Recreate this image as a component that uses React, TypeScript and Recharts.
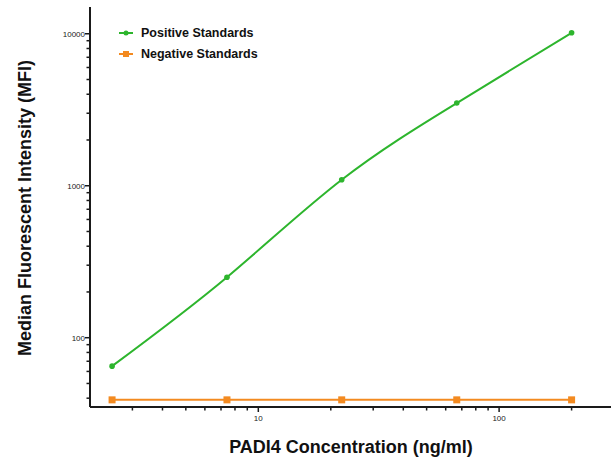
import React from 'react';
import { LineChart, Line, XAxis, YAxis, Legend } from 'recharts';

// PADI4 standard curve, concentrations in ng/ml (3-fold dilutions)
const concentrations = [2.47, 7.41, 22.2, 66.7, 200];
const positiveMFI = [65, 250, 1095, 3500, 10150];
const negativeMFI = [39, 39, 39, 39, 39];

const xTicks = [3, 4, 5, 6, 7, 8, 9, 10, 20, 30, 40, 50, 60, 70, 80, 90, 100, 200];
const yTicks = [40, 50, 60, 70, 80, 90, 100, 200, 300, 400, 500, 600, 700, 800, 900, 1000, 2000, 3000, 4000, 5000, 6000, 7000, 8000, 9000, 10000];
const xLabels = [10, 100];
const yLabels = [100, 1000, 10000];

const GREEN = '#2db52d';
const ORANGE = '#f38a20';
const AXIS = '#1a1a1a';
const FONT = '"Liberation Sans", Arial, sans-serif';

const data = concentrations.map((c, i) => ({
  conc: c,
  pos: positiveMFI[i],
  neg: negativeMFI[i],
}));

const XTick = ({ x, y, payload }: any) => {
  const major = xLabels.includes(payload.value);
  return (
    <g>
      <line x1={x} x2={x} y1={y} y2={y + (major ? 5 : 3.5)} stroke={AXIS} strokeWidth={1.5} />
      {major && (
        <text x={x} y={y + 14} textAnchor="middle" fontSize={8} fontFamily={FONT} fill="#222">
          {payload.value}
        </text>
      )}
    </g>
  );
};

const YTick = ({ x, y, payload }: any) => {
  const major = yLabels.includes(payload.value);
  return (
    <g>
      <line x1={x} x2={x - (major ? 5 : 3.5)} y1={y} y2={y} stroke={AXIS} strokeWidth={1.5} />
      {major && (
        <text x={x - 5} y={y + 3} textAnchor="end" fontSize={8} fontFamily={FONT} fill="#222">
          {payload.value}
        </text>
      )}
    </g>
  );
};

const SquareDot = ({ cx, cy }: any) => (
  <rect x={cx - 3.5} y={cy - 3.5} width={7} height={7} fill={ORANGE} />
);

const legendItems = [
  { label: 'Positive Standards', color: GREEN, square: false },
  { label: 'Negative Standards', color: ORANGE, square: true },
];

const LegendBox = () => (
  <div style={{ fontFamily: FONT, fontWeight: 'bold', fontSize: 12.5, color: '#111' }}>
    {legendItems.map(item => (
      <div key={item.label} style={{ display: 'flex', alignItems: 'center', height: 21 }}>
        <svg width={24} height={10}>
          <line x1={2} x2={16} y1={5} y2={5} stroke={item.color} strokeWidth={2} />
          {item.square
            ? <rect x={6} y={2} width={6} height={6} fill={item.color} />
            : <circle cx={9} cy={5} r={2.5} fill={item.color} />}
        </svg>
        <span>{item.label}</span>
      </div>
    ))}
  </div>
);

export default function App() {
  return (
    <div style={{ position: 'absolute', top: 0, left: 0, width: 611, height: 461, overflow: 'hidden', background: '#fff' }}>
      <LineChart width={614} height={461} data={data} margin={{ top: 7, right: 0, bottom: 0, left: 0 }}>
        <XAxis
          dataKey="conc"
          type="number"
          scale="log"
          domain={[2, 300]}
          ticks={xTicks}
          interval={0}
          allowDataOverflow
          height={54}
          axisLine={{ stroke: AXIS, strokeWidth: 2 }}
          tickLine={false}
          tickSize={0}
          tickMargin={0}
          tick={<XTick />}
          label={{
            content: () => (
              <text
                x={351}
                y={453}
                textAnchor="middle"
                fontSize={18}
                fontWeight="bold"
                fontFamily={FONT}
                fill="#111"
              >
                PADI4 Concentration (ng/ml)
              </text>
            ),
          }}
        />
        <YAxis
          type="number"
          scale="log"
          domain={[35, 15000]}
          ticks={yTicks}
          interval={0}
          allowDataOverflow
          width={90}
          axisLine={{ stroke: AXIS, strokeWidth: 2 }}
          tickLine={false}
          tickSize={0}
          tickMargin={0}
          tick={<YTick />}
          label={{
            content: () => {
              const cx = 25;
              const cy = 208;
              return (
                <text
                  x={cx}
                  y={cy}
                  transform={`rotate(-90 ${cx} ${cy})`}
                  textAnchor="middle"
                  dominantBaseline="central"
                  fontSize={18}
                  fontWeight="bold"
                  fontFamily={FONT}
                  fill="#111"
                >
                  Median Fluorescent Intensity (MFI)
                </text>
              );
            },
          }}
        />
        <Legend
          layout="horizontal"
          verticalAlign="middle"
          align="center"
          content={<LegendBox />}
          wrapperStyle={{ top: 22, left: 117, width: 'auto' }}
        />
        <Line
          dataKey="pos"
          name="Positive Standards"
          type="natural"
          stroke={GREEN}
          strokeWidth={2}
          dot={{ r: 2.8, fill: GREEN, stroke: GREEN, strokeWidth: 0 }}
          isAnimationActive={false}
        />
        <Line
          dataKey="neg"
          name="Negative Standards"
          type="linear"
          stroke={ORANGE}
          strokeWidth={2}
          dot={<SquareDot />}
          isAnimationActive={false}
        />
      </LineChart>
    </div>
  );
}
